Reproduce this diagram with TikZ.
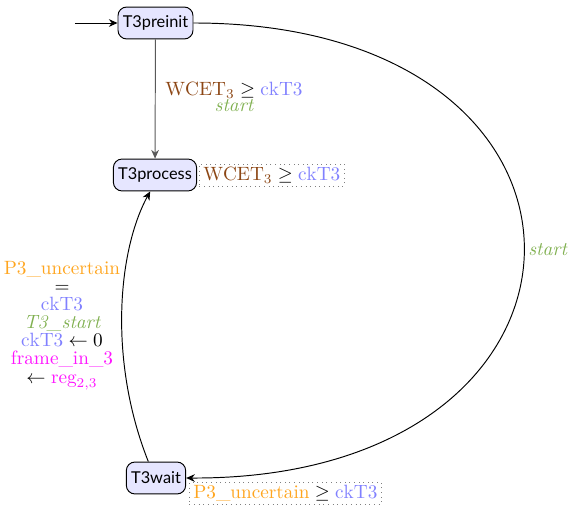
\documentclass[tikz,border=0pt]{standalone}
\usepackage{fontspec}
\setsansfont{Lato}
\usetikzlibrary{arrows.meta}
\definecolor{nodefill}{RGB}{230,230,255}
\definecolor{cbrown}{RGB}{140,70,20}
\definecolor{cblue}{RGB}{128,128,255}
\definecolor{cgreen}{RGB}{128,176,80}
\definecolor{corange}{RGB}{255,165,30}
\definecolor{cmag}{RGB}{255,20,255}
\tikzset{
  loc/.style={draw=black, fill=nodefill, rounded corners=4.5pt, line width=0.5pt, font=\sffamily\fontsize{8.5}{10}\selectfont, minimum height=16.6pt, inner xsep=2.5pt},
  inv/.style={draw=gray, dotted, inner xsep=2pt, inner ysep=1.5pt},
  edge/.style={-{Stealth[length=4.5pt,width=4pt]}, line width=0.5pt},
  lbl/.style={align=center, inner sep=0pt}
}
\begin{document}
\begin{tikzpicture}[x=0.52pt, y=-0.52pt]
\useasboundingbox (0,0) rectangle (570,505);
\node[loc] (pre) at (155.5,23) {T3preinit};
\node[loc] (proc) at (155,175) {T3process};
\node[loc] (wait) at (156,478) {T3wait};
\coordinate (init) at (75,23);
\node[inv, anchor=west] (procinv) at ([xshift=1pt]proc.east) {$\textcolor{cbrown}{\mathrm{WCET}_3} \geq \textcolor{cblue}{\mathrm{ckT3}}$};
\node[inv, anchor=north west] (waitinv) at ([xshift=1.5pt,yshift=-2pt]wait.east) {$\textcolor{corange}{\textrm{P3\_uncertain}} \geq \textcolor{cblue}{\mathrm{ckT3}}$};
\draw[edge] (init) -- (pre);
\draw[edge, draw=gray!70!black] (pre) -- (proc);
\node[lbl] (l1) at (234,97) {$\textcolor{cbrown}{\mathrm{WCET}_3} \geq \textcolor{cblue}{\mathrm{ckT3}}$\\[-3.4pt] $\textcolor{cgreen}{\mathit{start}}$};
\draw[edge] (pre.east) .. controls (640,23) and (630,480) .. (wait.east);
\node[lbl, anchor=west] (l2) at (528,250) {$\textcolor{cgreen}{\mathit{start}}$};
\draw[edge] ([xshift=-4pt]wait.north) .. controls (108,360) and (118,250) .. ([xshift=-2.5pt]proc.south);
\node[lbl] (l3) at (62,326) {$\textcolor{corange}{\textrm{P3\_uncertain}}$\\[-2.6pt] $=$\\[-2.6pt] $\textcolor{cblue}{\mathrm{ckT3}}$\\[-2.6pt] $\textcolor{cgreen}{\textit{T3\_start}}$\\[-2.6pt] $\textcolor{cblue}{\mathrm{ckT3}} \leftarrow 0$\\[-2.6pt] $\textcolor{cmag}{\textrm{frame\_in\_3}}$\\[-2.6pt] $\leftarrow \textcolor{cmag}{\mathrm{reg}_{2,3}}$};
\end{tikzpicture}
\end{document}
